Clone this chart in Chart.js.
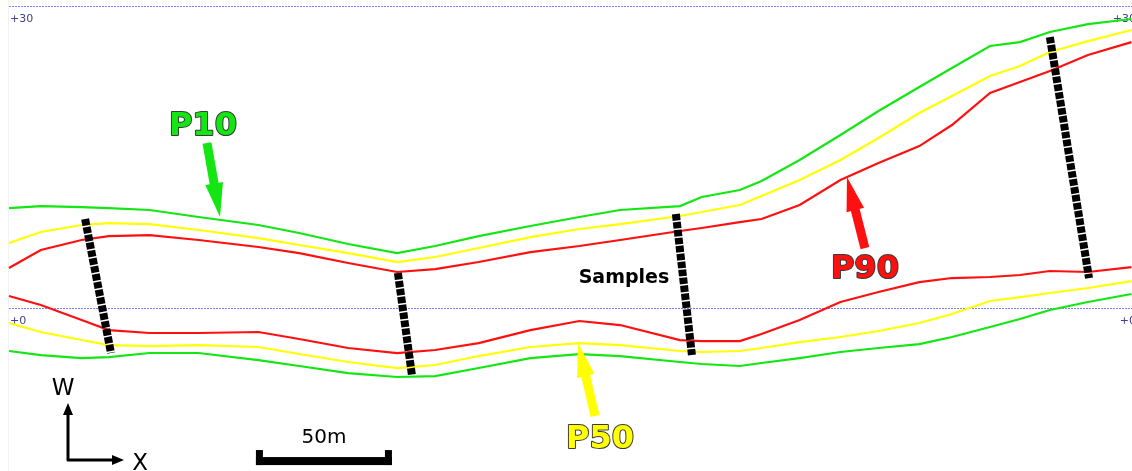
<!DOCTYPE html>
<html>
<head>
<meta charset="utf-8">
<title>P10 / P50 / P90 envelopes</title>
<script src="https://cdn.jsdelivr.net/npm/chart.js@4.4.1/dist/chart.umd.min.js"></script>
<style>
  body{margin:0;background:#fff;}
  canvas{display:block;}
</style>
</head>
<body>
<canvas id="myChart" width="1132" height="471"></canvas>
<script>
// distance along section (m)
var stations=[3.3,15,30,40,55,73,95,110,128,146,160,176,195,213,228,250,258,272,280,294,309,323,338,350,364,375,386,400,416]

// upper envelopes
var p10Upper=[9.93,10.13,10.03,9.93,9.74,9.04,8.25,7.45,6.36,5.46,6.16,7.15,8.15,9.04,9.74,10.13,11.03,11.72,12.62,14.70,17.19,19.57,21.95,23.84,26.03,26.42,27.42,28.21,28.71]
var p50Upper=[6.46,7.55,8.25,8.44,8.34,7.75,6.95,6.26,5.46,4.57,5.07,5.96,7.05,7.85,8.34,9.14,9.54,10.23,11.13,12.72,14.70,16.89,19.37,21.06,23.05,24.04,25.43,26.52,27.62]
var p90Upper=[3.97,5.76,6.76,7.15,7.25,6.76,6.06,5.46,4.47,3.58,3.87,4.57,5.56,6.16,6.76,7.65,7.95,8.54,8.84,10.23,12.72,14.40,16.09,18.18,21.36,22.45,23.54,25.13,26.42]

// lower envelopes
var p90Lower=[1.19,0.30,-1.19,-2.19,-2.48,-2.48,-2.38,-3.08,-3.97,-4.47,-4.17,-3.48,-2.19,-1.29,-1.69,-3.18,-3.28,-3.28,-2.58,-1.19,0.60,1.59,2.58,2.98,3.08,3.28,3.68,3.58,4.07]
var p50Lower=[-1.49,-2.38,-3.18,-3.68,-3.78,-3.68,-3.87,-4.57,-5.36,-5.96,-5.66,-4.77,-3.87,-3.48,-3.68,-4.27,-4.37,-4.27,-3.97,-3.38,-2.88,-2.28,-1.49,-0.60,0.70,1.09,1.49,1.99,2.68]
var p10Lower=[-4.27,-4.67,-4.97,-4.87,-4.47,-4.47,-5.17,-5.76,-6.46,-6.85,-6.76,-5.96,-4.97,-4.57,-4.77,-5.36,-5.56,-5.76,-5.46,-4.97,-4.37,-3.97,-3.58,-2.88,-1.89,-1.09,-0.20,0.60,1.39]

// sample traverses (top end -> bottom end)
var sampleTopX=[31.3,146.3,248.5,386.0]
var sampleTopY=[8.84,3.48,9.34,26.92]
var sampleBotX=[40.8,151.5,254.4,400.4]
var sampleBotY=[-4.47,-6.76,-4.67,2.98]

// reference levels
var refLevels=[0,30]
var refLabels=['+0','+30']

var GREEN='#14e614'
var YELLOW='#ffff00'
var RED='#ff1010'

function pts(ys){
    var out=[]
    for(var i=0;i<stations.length;i++){
        out.push({x:stations[i],y:ys[i]})
    }
    return out
}

var datasets=[]
for(var i=0;i<sampleTopX.length;i++){
    datasets.push({
        data:[{x:sampleTopX[i],y:sampleTopY[i]},{x:sampleBotX[i],y:sampleBotY[i]}],
        borderColor:'#000',
        borderWidth:8,
        borderDash:[6.5,1.5],
        borderCapStyle:'butt',
        order:0
    })
}
var envelopes=[[p10Upper,GREEN],[p50Upper,YELLOW],[p90Upper,RED],[p90Lower,RED],[p50Lower,YELLOW],[p10Lower,GREEN]]
envelopes.forEach(function(e){
    datasets.push({data:pts(e[0]),borderColor:e[1],borderWidth:2.2,order:1})
})

function arrow(ctx,x0,y0,x1,y1,color,shaft,headLen,headW){
    var a=Math.atan2(y1-y0,x1-x0)
    var bx=x1-Math.cos(a)*headLen, by=y1-Math.sin(a)*headLen
    ctx.strokeStyle=color
    ctx.fillStyle=color
    ctx.lineWidth=shaft
    ctx.lineCap='butt'
    ctx.beginPath();ctx.moveTo(x0,y0);ctx.lineTo(bx+Math.cos(a),by+Math.sin(a));ctx.stroke()
    ctx.beginPath()
    ctx.moveTo(x1,y1)
    ctx.lineTo(bx+Math.sin(a)*headW/2,by-Math.cos(a)*headW/2)
    ctx.lineTo(bx-Math.sin(a)*headW/2,by+Math.cos(a)*headW/2)
    ctx.closePath();ctx.fill()
}

function outlined(ctx,text,x,y,color){
    ctx.font='bold 32px "DejaVu Sans"'
    ctx.textAlign='center'
    ctx.textBaseline='alphabetic'
    ctx.lineJoin='round'
    ctx.lineWidth=2
    ctx.strokeStyle='#3a3a3a'
    ctx.strokeText(text,x,y)
    ctx.fillStyle=color
    ctx.fillText(text,x,y)
}

var overlay={
    id:'overlay',
    beforeDatasetsDraw:function(chart){
        var ctx=chart.ctx, x=chart.scales.x, y=chart.scales.y
        ctx.save()
        ctx.strokeStyle='#f2f2f2'
        ctx.lineWidth=1
        ctx.beginPath();ctx.moveTo(8.5,0);ctx.lineTo(8.5,chart.height);ctx.stroke()
        refLevels.forEach(function(v,i){
            var py=Math.round(y.getPixelForValue(v))+0.5
            ctx.strokeStyle='#7c7cff'
            ctx.setLineDash([2,1])
            ctx.lineWidth=1
            ctx.beginPath();ctx.moveTo(9,py);ctx.lineTo(chart.width,py);ctx.stroke()
            ctx.setLineDash([])
            ctx.fillStyle='#40408c'
            ctx.font='11px "DejaVu Sans"'
            ctx.textBaseline='alphabetic'
            ctx.textAlign='left'
            ctx.fillText(refLabels[i],10,py+15)
            ctx.textAlign='right'
            ctx.fillText(refLabels[i],1136,py+15)
        })
        ctx.restore()
    },
    afterDatasetsDraw:function(chart){
        var ctx=chart.ctx, x=chart.scales.x, y=chart.scales.y
        function px(v){return x.getPixelForValue(v)}
        function py(v){return y.getPixelForValue(v)}
        ctx.save()

        // labelled arrows
        arrow(ctx,px(76.1),py(16.39),px(80.9),py(9.04),GREEN,9,34,18)
        arrow(ctx,px(218.8),py(-10.73),px(212.5),py(-3.48),YELLOW,9,34,18)
        arrow(ctx,px(318.0),py(5.96),px(311.4),py(13.01),RED,9,34,18)
        outlined(ctx,'P10',px(74.6),py(17.19),GREEN)
        outlined(ctx,'P50',px(220.6),py(-13.91),YELLOW)
        outlined(ctx,'P90',px(318.0),py(2.98),RED)

        ctx.fillStyle='#000'
        ctx.font='bold 19px "DejaVu Sans"'
        ctx.textAlign='center'
        ctx.fillText('Samples',px(229.4),py(2.48))

        // scale bar 50 m
        var sx0=px(94.1), sx1=px(144.1), sy=py(-15.6)
        ctx.fillRect(sx0,sy-8,sx1-sx0,8)
        ctx.fillRect(sx0,sy-15,7,15)
        ctx.fillRect(sx1-7,sy-15,7,15)
        ctx.font='20px "DejaVu Sans"'
        ctx.fillText('50m',px(119.1),py(-13.41))

        // W / X direction arrows
        var ox=px(25.0), oy=py(-15.10)
        ctx.strokeStyle='#000'
        ctx.lineWidth=3
        ctx.lineCap='butt'
        ctx.beginPath();ctx.moveTo(ox,oy-46);ctx.lineTo(ox,oy);ctx.lineTo(ox+46,oy);ctx.stroke()
        ctx.beginPath();ctx.moveTo(ox,oy-57);ctx.lineTo(ox-5,oy-45);ctx.lineTo(ox+5,oy-45);ctx.closePath();ctx.fill()
        ctx.beginPath();ctx.moveTo(ox+56,oy);ctx.lineTo(ox+44,oy-5);ctx.lineTo(ox+44,oy+5);ctx.closePath();ctx.fill()
        ctx.font='23px "DejaVu Sans"'
        ctx.fillText('W',px(23.2),py(-8.64))
        ctx.fillText('X',px(51.5),py(-16.09))

        ctx.restore()
    }
}

var chart=new Chart(document.getElementById('myChart').getContext('2d'),{
    type:'line',
    data:{datasets:datasets},
    options:{
        responsive:false,
        animation:false,
        devicePixelRatio:1,
        layout:{padding:0},
        elements:{point:{radius:0},line:{tension:0}},
        plugins:{legend:{display:false},tooltip:{enabled:false}},
        scales:{
            x:{type:'linear',min:0,max:416.2,display:false},
            y:{type:'linear',min:-16.19,max:30.6,display:false}
        }
    },
    plugins:[overlay]
})
</script>
</body>
</html>
